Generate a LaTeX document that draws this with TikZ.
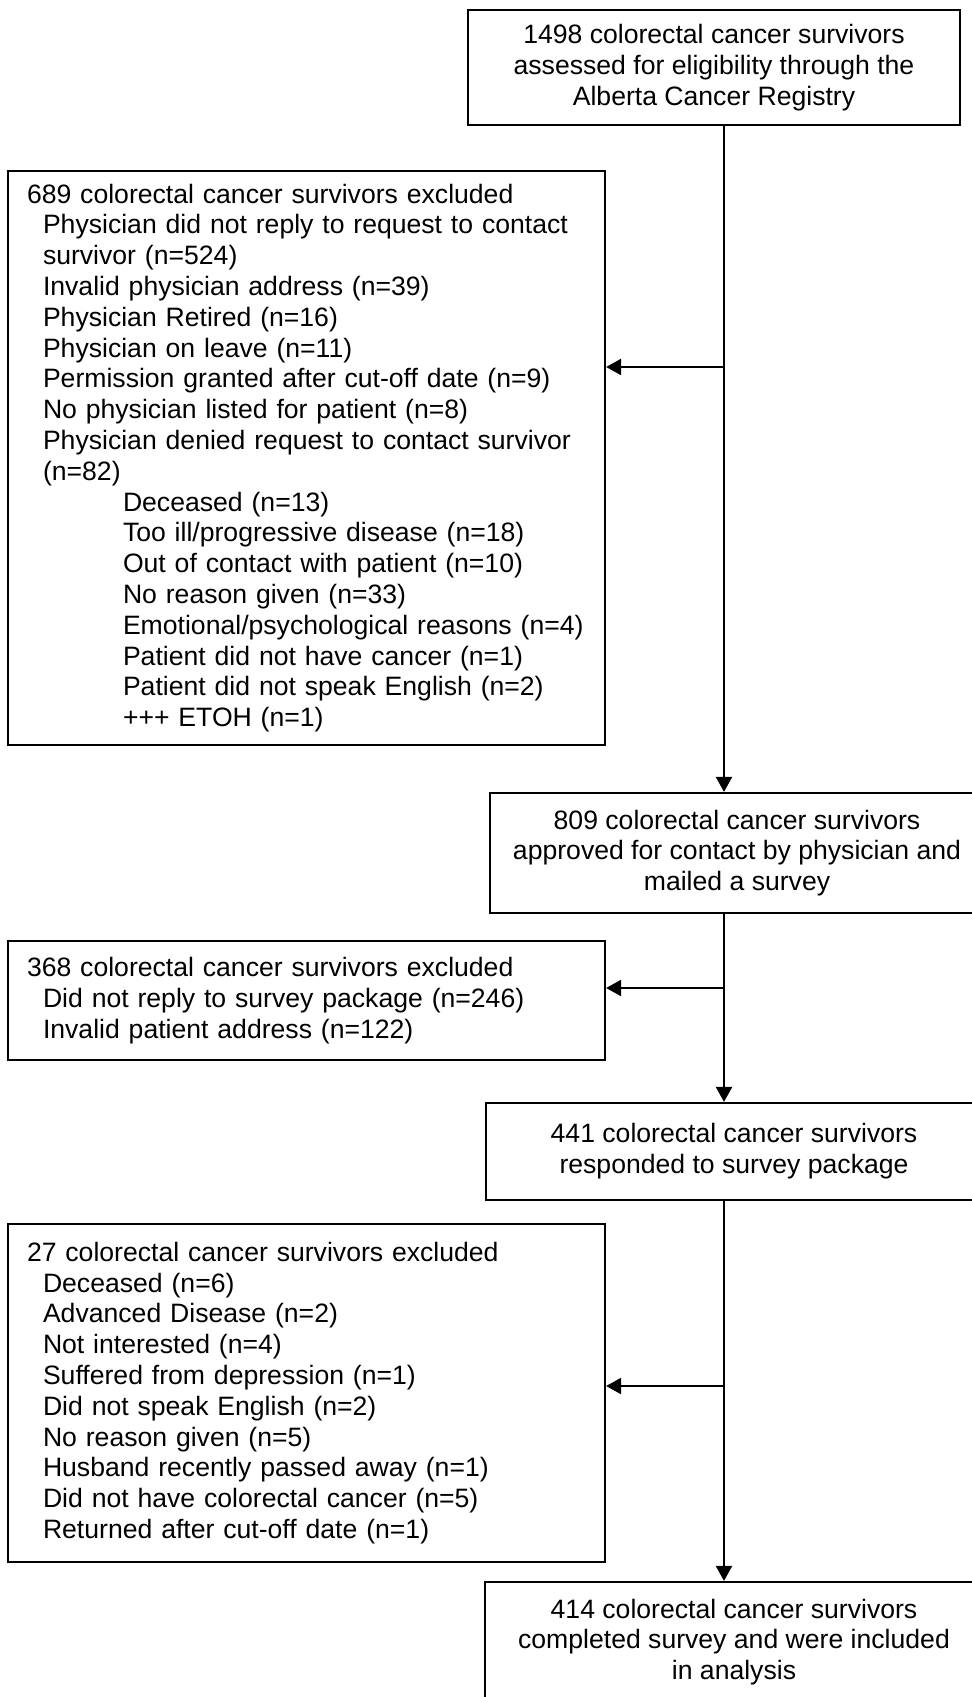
\documentclass[tikz,border=0pt]{standalone}
\usepackage{fontspec}
\setmainfont{Liberation Sans}
\usetikzlibrary{arrows.meta}
\begin{document}
\begin{tikzpicture}[x=0.5pt,y=-0.5pt,
  box/.style={draw=black, line width=1.1pt, rectangle, inner ysep=0pt,
    font=\fontsize{13.3pt}{15.4pt}\selectfont},
  flowbox/.style={box, align=center, inner xsep=0pt},
  listbox/.style={box, align=left, inner xsep=9.5pt, text width=279.5pt},
  link/.style={line width=1.1pt},
  arr/.style={link, -{Triangle[length=7.5pt,width=8pt]}}]

\useasboundingbox (0,0) rectangle (972,1697);
\fill[white] (0,0) rectangle (972,1697);

% main flow boxes (right column)
\node[flowbox, minimum width=246pt, minimum height=57.5pt] (b1) at (714,67.5)
  {1498 colorectal cancer survivors\\assessed for eligibility through the\\Alberta Cancer Registry};
\node[flowbox, minimum width=247pt, minimum height=60pt] (b2) at (737,853)
  {809 colorectal cancer survivors\\approved for contact by physician and\\mailed a survey};
\node[flowbox, minimum width=248pt, minimum height=48.5pt] (b3) at (734,1151.5)
  {441 colorectal cancer survivors\\responded to survey package};
\node[flowbox, minimum width=249pt, minimum height=60pt] (b4) at (734,1642)
  {414 colorectal cancer survivors\\completed survey and were included\\in analysis};

% exclusion boxes (left column)
\node[listbox, minimum height=287pt] (ex1) at (306.5,458)
  {689 colorectal cancer survivors excluded\\
   \hspace*{8pt}Physician did not reply to request to contact\\
   \hspace*{8pt}survivor (n=524)\\
   \hspace*{8pt}Invalid physician address (n=39)\\
   \hspace*{8pt}Physician Retired (n=16)\\
   \hspace*{8pt}Physician on leave (n=11)\\
   \hspace*{8pt}Permission granted after cut-off date (n=9)\\
   \hspace*{8pt}No physician listed for patient (n=8)\\
   \hspace*{8pt}Physician denied request to contact survivor\\
   \hspace*{8pt}(n=82)\\
   \hspace*{48pt}Deceased (n=13)\\
   \hspace*{48pt}Too ill/progressive disease (n=18)\\
   \hspace*{48pt}Out of contact with patient (n=10)\\
   \hspace*{48pt}No reason given (n=33)\\
   \hspace*{48pt}Emotional/psychological reasons (n=4)\\
   \hspace*{48pt}Patient did not have cancer (n=1)\\
   \hspace*{48pt}Patient did not speak English (n=2)\\
   \hspace*{48pt}+++ ETOH (n=1)};
\node[listbox, minimum height=59.5pt] (ex2) at (306.5,1000.5)
  {368 colorectal cancer survivors excluded\\
   \hspace*{8pt}Did not reply to survey package (n=246)\\
   \hspace*{8pt}Invalid patient address (n=122)};
\node[listbox, minimum height=169pt] (ex3) at (306.5,1393)
  {27 colorectal cancer survivors excluded\\
   \hspace*{8pt}Deceased (n=6)\\
   \hspace*{8pt}Advanced Disease (n=2)\\
   \hspace*{8pt}Not interested (n=4)\\
   \hspace*{8pt}Suffered from depression (n=1)\\
   \hspace*{8pt}Did not speak English (n=2)\\
   \hspace*{8pt}No reason given (n=5)\\
   \hspace*{8pt}Husband recently passed away (n=1)\\
   \hspace*{8pt}Did not have colorectal cancer (n=5)\\
   \hspace*{8pt}Returned after cut-off date (n=1)};

% branch points on the main vertical line
\coordinate (j1) at (724,367);
\coordinate (j2) at (724,988);
\coordinate (j3) at (724,1386);

% connectors
\draw[arr] (b1.south -| j1) -- (b2.north -| j1);
\draw[arr] (j1) -- (ex1.east |- j1);
\draw[arr] (b2.south -| j2) -- (b3.north -| j2);
\draw[arr] (j2) -- (ex2.east |- j2);
\draw[arr] (b3.south -| j3) -- (b4.north -| j3);
\draw[arr] (j3) -- (ex3.east |- j3);
\end{tikzpicture}
\end{document}
